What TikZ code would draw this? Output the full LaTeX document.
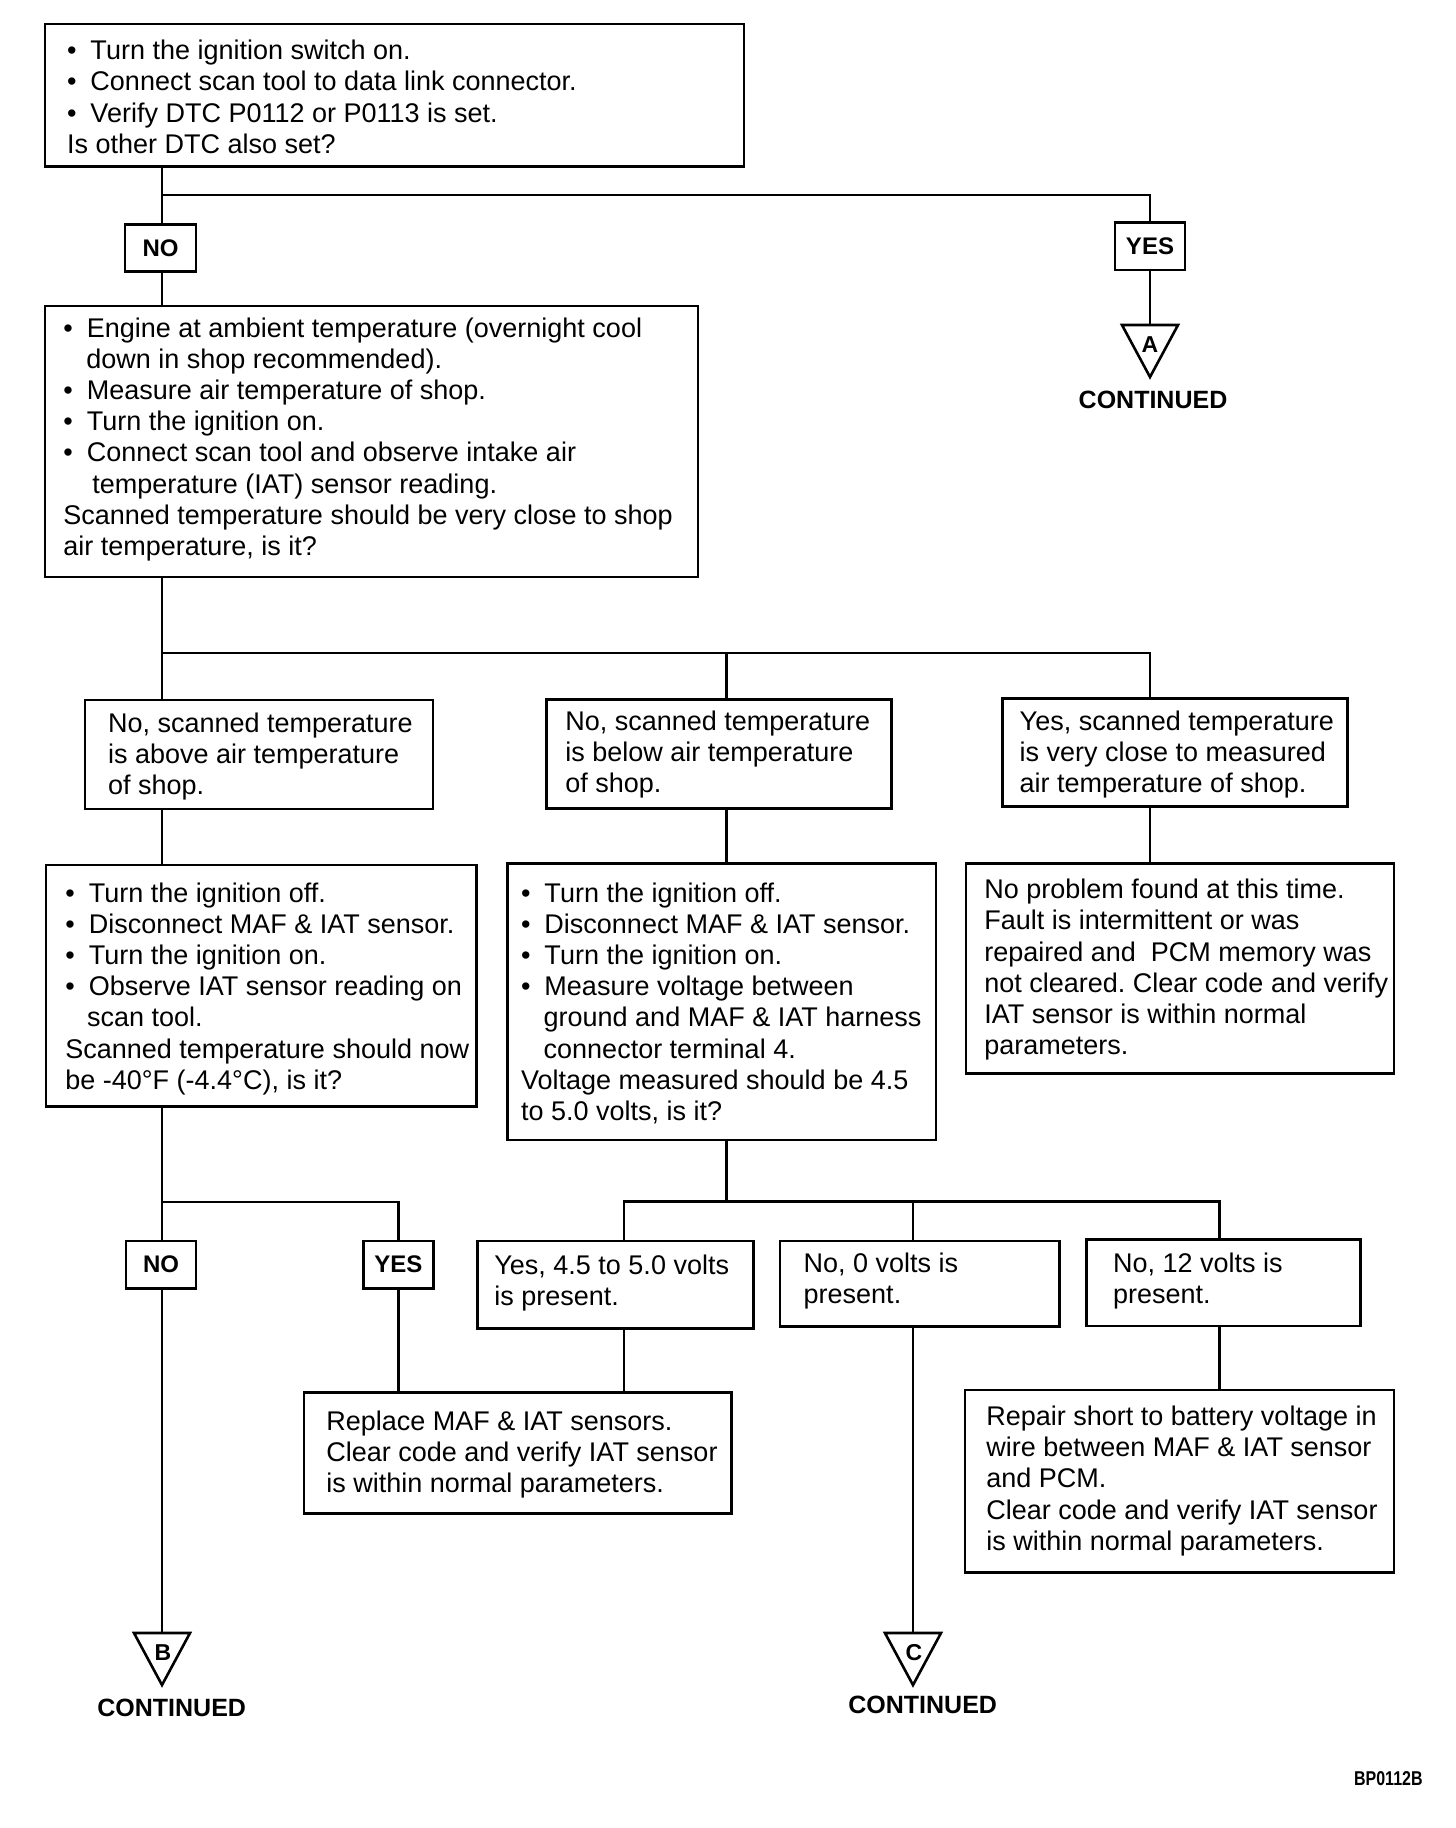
\documentclass[tikz,border=0pt]{standalone}
\usepackage{fontspec}
\setmainfont{Liberation Sans}
\usetikzlibrary{fit}
\frenchspacing
\newcommand\bul{\makebox[11.7pt][l]{•}}
\newcommand\fl{\rule{0pt}{11pt}}
\begin{document}
\begin{tikzpicture}[x=0.5pt,y=-0.5pt,
  box/.style={draw, line width=1.3pt, inner sep=0pt},
  txt/.style={anchor=north west, inner sep=0pt, align=left, font=\fontsize{13.5}{15.6}\selectfont},
  lbl/.style={font=\bfseries\fontsize{12}{14}\selectfont, inner sep=0pt},
  cont/.style={font=\bfseries\fontsize{12.5}{14}\selectfont, anchor=base, inner sep=0pt},
  tri/.style={draw, line width=1.3pt, line join=miter},
  trl/.style={font=\bfseries\fontsize{11.5}{13}\selectfont, inner sep=0pt},
  conn/.style={line width=1.3pt}]
\fill[white] (0,0) rectangle (1456,1828);
\useasboundingbox (0,0) rectangle (1456,1828);

% boxes
\node[box, fit={(45,24) (744,166.7)}] (b1) {};
\node[box, fit={(125,224.3) (196,271.7)}] (no1) {};
\node[box, fit={(1115,222.7) (1185,270)}] (yes1) {};
\node[box, fit={(45,306) (698,577)}] (b2) {};
\node[box, fit={(85,700) (433,809)}] (b3a) {};
\node[box, fit={(546.7,699.3) (891.7,808.3)}] (b3b) {};
\node[box, fit={(1002.7,698.3) (1347.3,806.7)}] (b3c) {};
\node[box, fit={(46,865) (476.7,1106.7)}] (b4a) {};
\node[box, fit={(507.3,863.3) (936,1140)}] (b4b) {};
\node[box, fit={(966,863.3) (1394,1073.3)}] (b4c) {};
\node[box, fit={(126,1241) (196,1288.3)}] (no2) {};
\node[box, fit={(363.3,1241) (433.3,1288.3)}] (yes2) {};
\node[box, fit={(477.3,1241) (753.3,1328.3)}] (b5a) {};
\node[box, fit={(780,1241) (1059.3,1326.7)}] (b5b) {};
\node[box, fit={(1086.7,1239.3) (1360.7,1326)}] (b5c) {};
\node[box, fit={(304,1392.3) (731.7,1513.3)}] (b6a) {};
\node[box, fit={(965,1390) (1394,1572.7)}] (b6c) {};

% labels
\node[lbl] (no1t) at (no1) {NO};
\node[lbl] (yes1t) at (yes1) {YES};
\node[lbl] (no2t) at (no2) {NO};
\node[lbl] (yes2t) at (yes2) {YES};

% texts
\node[txt] (t1) at (66.7,37.3) {\fl\bul Turn the ignition switch on.\\
\bul Connect scan tool to data link connector.\\
\bul Verify DTC P0112 or P0113 is set.\\
Is other DTC also set?};
\node[txt] (t2) at (63,314.7) {\fl\bul Engine at ambient temperature (overnight cool\\
\hspace*{11.5pt}down in shop recommended).\\
\bul Measure air temperature of shop.\\
\bul Turn the ignition on.\\
\bul Connect scan tool and observe intake air\\
\hspace*{14.5pt}temperature (IAT) sensor reading.\\
Scanned temperature should be very close to shop\\
air temperature, is it?};
\node[txt] (t3a) at (107.7,709.7) {\fl No, scanned temperature\\ is above air temperature\\ of shop.};
\node[txt] (t3b) at (565,708) {\fl No, scanned temperature\\ is below air temperature\\ of shop.};
\node[txt] (t3c) at (1019.3,708) {\fl Yes, scanned temperature\\ is very close to measured\\ air temperature of shop.};
\node[txt] (t4a) at (65,879.7) {\fl\bul Turn the ignition off.\\
\bul Disconnect MAF \& IAT sensor.\\
\bul Turn the ignition on.\\
\bul Observe IAT sensor reading on\\
\hspace*{10.8pt}scan tool.\\
Scanned temperature should now\\
be -40°F (-4.4°C), is it?};
\node[txt] (t4b) at (520.7,879.7) {\fl\bul Turn the ignition off.\\
\bul Disconnect MAF \& IAT sensor.\\
\bul Turn the ignition on.\\
\bul Measure voltage between\\
\hspace*{11.3pt}ground and MAF \& IAT harness\\
\hspace*{11.3pt}connector terminal 4.\\
Voltage measured should be 4.5\\
to 5.0 volts, is it?};
\node[txt] (t4c) at (984,876.3) {\fl No problem found at this time.\\
Fault is intermittent or was\\
repaired and\ \ PCM memory was\\
not cleared. Clear code and verify\\
IAT sensor is within normal\\
parameters.};
\node[txt] (t5a) at (494,1252) {\fl Yes, 4.5 to 5.0 volts\\ is present.};
\node[txt] (t5b) at (803.3,1249.7) {\fl No, 0 volts is\\ present.};
\node[txt] (t5c) at (1112.7,1249.7) {\fl No, 12 volts is\\ present.};
\node[txt] (t6a) at (326,1408) {\fl Replace MAF \& IAT sensors.\\
Clear code and verify IAT sensor\\
is within normal parameters.};
\node[txt] (t6c) at (986,1403) {\fl Repair short to battery voltage in\\
wire between MAF \& IAT sensor\\
and PCM.\\
Clear code and verify IAT sensor\\
is within normal parameters.};

% triangles
\coordinate (triA) at (1150,325);
\coordinate (triB) at (162,1633);
\coordinate (triC) at (913,1633);
\draw[tri] (1122,325) -- (1178,325) -- (1150,377) -- cycle;
\draw[tri] (134,1633) -- (190,1633) -- (162,1685) -- cycle;
\draw[tri] (885,1633) -- (941,1633) -- (913,1685) -- cycle;
\node[trl] (lA) at (1150,345) {A};
\node[trl] (lB) at (163,1653) {B};
\node[trl] (lC) at (914,1653) {C};
\node[cont] (cA) at (1153,408) {CONTINUED};
\node[cont] (cB) at (171.7,1716) {CONTINUED};
\node[cont] (cC) at (922.7,1713) {CONTINUED};
\node[anchor=base east, inner sep=0pt] (code) at (1423,1785) {\scalebox{0.8}[1]{\bfseries\fontsize{10}{12}\selectfont BP0112B}};

% connectors
\coordinate (xL) at (162,0);
\coordinate (xM) at (726.5,0);
\coordinate (xR) at (1150,0);
\coordinate (x5a) at (624,0);
\coordinate (x5b) at (913,0);
\coordinate (x5c) at (1219.3,0);
\coordinate (j1) at (162,195);
\coordinate (j2) at (162,653);
\coordinate (j3) at (162,1202);
\coordinate (j4) at (726.5,1201.5);

\draw[conn] (b1.south -| xL) -- (no1.north -| xL);
\draw[conn] (j1) -| (yes1.north);
\draw[conn] (no1.south -| xL) -- (b2.north -| xL);
\draw[conn] (yes1.south) -- (triA);
\draw[conn] (b2.south -| xL) -- (b3a.north -| xL);
\draw[conn] (j2) -| (b3c.north -| xR);
\draw[conn] (j2 -| xM) -- (b3b.north -| xM);
\draw[conn] (b3a.south -| xL) -- (b4a.north -| xL);
\draw[conn] (b3b.south -| xM) -- (b4b.north -| xM);
\draw[conn] (b3c.south -| xR) -- (b4c.north -| xR);
\draw[conn] (b4a.south -| xL) -- (no2.north -| xL);
\draw[conn] (j3) -| (yes2.north);
\draw[conn] (no2.south -| xL) -- (triB);
\draw[conn] (yes2.south) -- (yes2.south |- b6a.north);
\draw[conn] (b4b.south -| xM) -- (j4);
\draw[conn] (b5a.north -| x5a) |- (j4 -| x5c) -- (b5c.north -| x5c);
\draw[conn] (j4 -| x5b) -- (b5b.north -| x5b);
\draw[conn] (b5a.south -| x5a) -- (b6a.north -| x5a);
\draw[conn] (b5b.south -| x5b) -- (triC);
\draw[conn] (b5c.south -| x5c) -- (b6c.north -| x5c);
\end{tikzpicture}
\end{document}
